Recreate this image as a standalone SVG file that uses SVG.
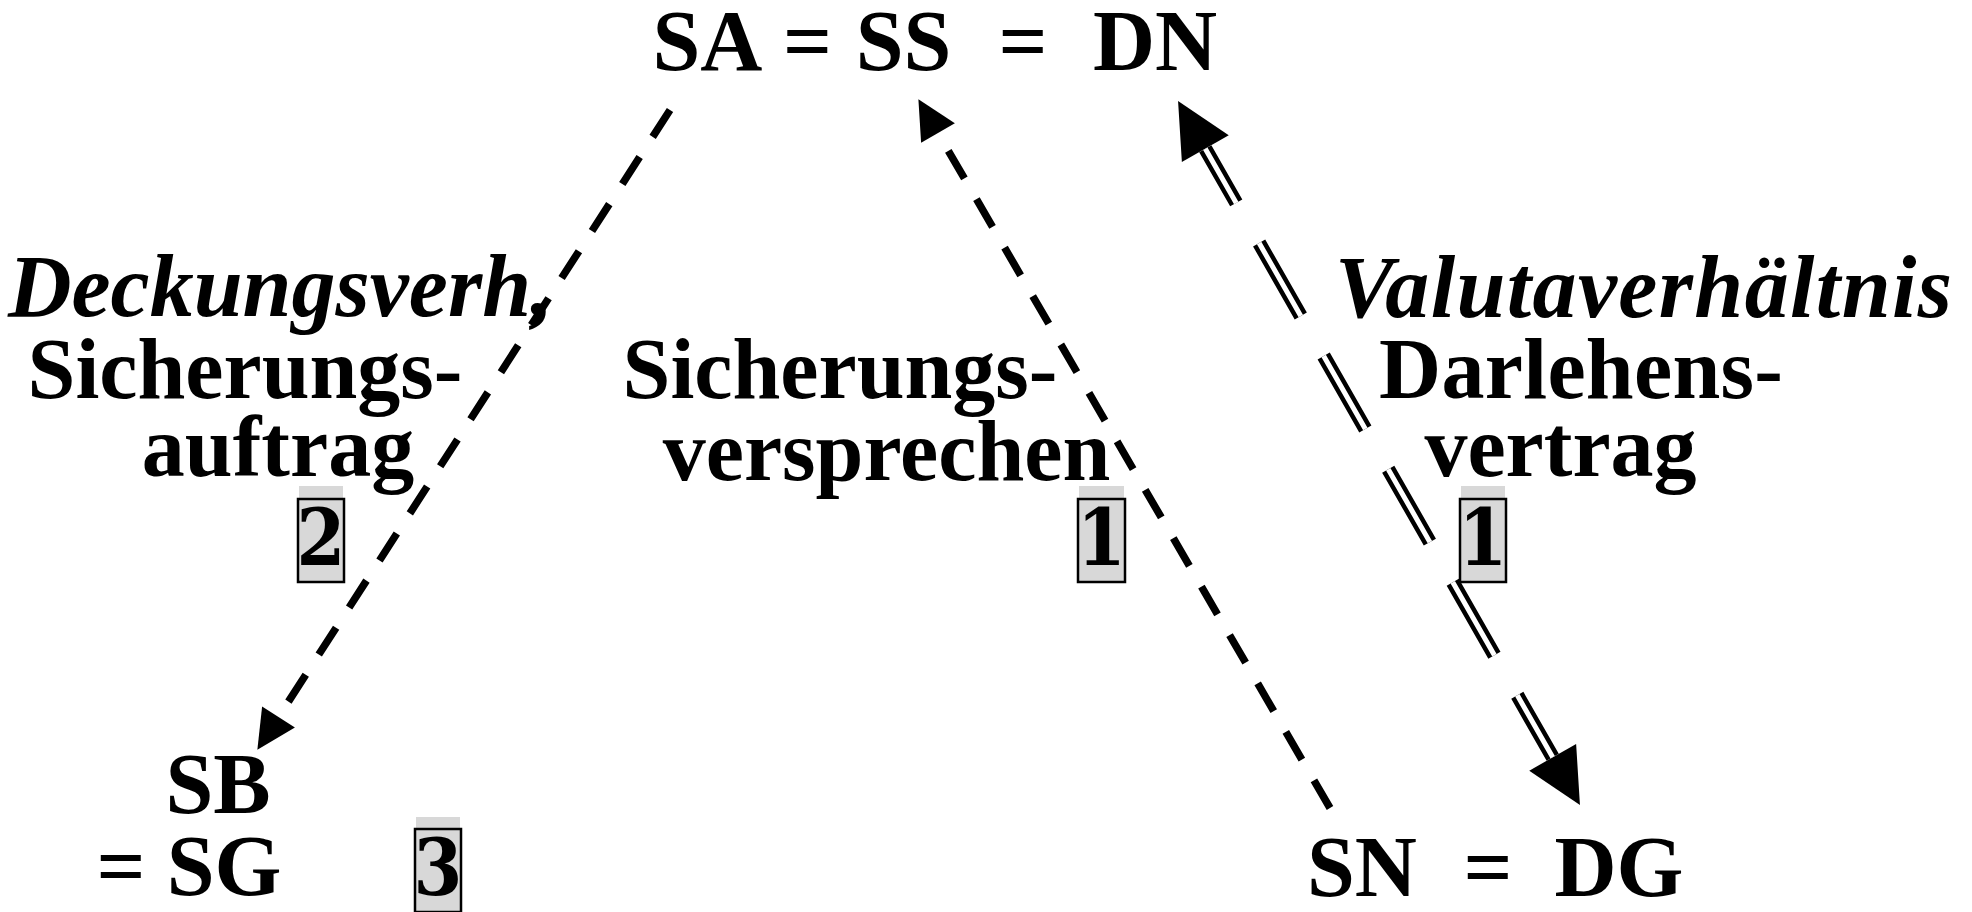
<svg xmlns="http://www.w3.org/2000/svg" width="1972" height="912" viewBox="0 0 1972 912">
<style>
.t{font-family:"Liberation Serif","Times New Roman",serif;font-weight:bold;font-size:86px;fill:#000}
.it{font-family:"Liberation Serif","Times New Roman",serif;font-weight:bold;font-style:italic;font-size:88px;fill:#000}
.m{text-anchor:middle}
.band{fill:#d8d8d8}
.box{fill:#d8d8d8;stroke:#000;stroke-width:2.5}
.num{font-family:"DejaVu Serif",serif;font-stretch:condensed;font-weight:bold;font-size:78px;text-anchor:middle;fill:#000}
.dash{fill:none;stroke:#000;stroke-width:7.5;stroke-dasharray:32 24}
.dbl-o{fill:none;stroke:#000;stroke-width:14;stroke-dasharray:84 46.2;stroke-dashoffset:21.6}
.dbl-i{fill:none;stroke:#fff;stroke-width:5;stroke-dasharray:84 46.2;stroke-dashoffset:21.6}
</style>
<defs>
<marker id="ah-s" markerUnits="userSpaceOnUse" markerWidth="40" markerHeight="40" refX="0" refY="19.5" orient="auto" overflow="visible">
<path d="M0,0 L39,19.5 L0,39 Z" fill="#000"/>
</marker>
<marker id="ah-l" markerUnits="userSpaceOnUse" markerWidth="56" markerHeight="54" refX="0" refY="27" orient="auto-start-reverse" overflow="visible">
<path d="M0,0 L55,27 L0,54 Z" fill="#000"/>
</marker>
</defs>

<g id="connectors">
<path id="c-sa-sb" class="dash" d="M670,110 L278.5,717" marker-end="url(#ah-s)"/>
<path id="c-sn-ss" class="dash" d="M1330,808 L938,133" marker-end="url(#ah-s)"/>
<path id="c-dn-dg" class="dbl-o" d="M1205.3,148.7 L1552.7,757.3" marker-start="url(#ah-l)" marker-end="url(#ah-l)"/>
<path class="dbl-i" d="M1205.3,148.7 L1552.7,757.3"/>
</g>

<g id="node-top">
<text class="t m" y="70"><tspan x="707.5">SA</tspan><tspan x="807.5">=</tspan><tspan x="903.5">SS</tspan><tspan x="1023">=</tspan><tspan x="1155">DN</tspan></text>
</g>

<g id="node-sb">
<text class="t m" x="218" y="813">SB</text>
<text class="t m" y="895"><tspan x="121">=</tspan><tspan x="224">SG</tspan></text>
</g>

<g id="node-sn">
<text class="t m" y="896"><tspan x="1362">SN</tspan><tspan x="1488">=</tspan><tspan x="1619">DG</tspan></text>
</g>

<g id="label-left">
<text class="it" x="8" y="316">Deckungsverh,</text>
<text class="t m" x="245" y="398">Sicherungs-</text>
<text class="t m" x="278" y="476">auftrag</text>
</g>

<g id="label-center">
<text class="t m" x="840" y="398">Sicherungs-</text>
<text class="t m" x="886.5" y="480">versprechen</text>
</g>

<g id="label-right">
<text class="it" x="1335" y="317" textLength="617">Valutaverhältnis</text>
<text class="t" x="1379" y="398" textLength="404">Darlehens-</text>
<text class="t m" x="1560.5" y="476">vertrag</text>
</g>

<g id="badge-2">
<rect class="band" x="299" y="486" width="44" height="14"/>
<rect class="box" x="298" y="499" width="46" height="83"/>
<text class="num" x="321" y="565">2</text>
</g>
<g id="badge-1a">
<rect class="band" x="1079" y="486" width="45" height="14"/>
<rect class="box" x="1078" y="499" width="47" height="83"/>
<text class="num" x="1101.5" y="565">1</text>
</g>
<g id="badge-1b">
<rect class="band" x="1461" y="486" width="44" height="14"/>
<rect class="box" x="1460" y="499" width="46" height="83"/>
<text class="num" x="1483" y="565">1</text>
</g>
<g id="badge-3">
<rect class="band" x="416" y="817" width="44" height="13"/>
<rect class="box" x="415" y="829" width="46" height="83"/>
<text class="num" x="438" y="895">3</text>
</g>
</svg>
